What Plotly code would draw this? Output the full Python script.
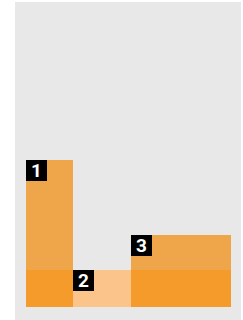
import plotly.graph_objects as go

labels = ["1", "2", "3"]
widths = [23, 28, 49]
totals = [80, 20, 39]
base = [20, 20, 20]

dark = "#F59B2B"
light = "#EFA54A"
peach = "#FBC48A"

lefts = []
acc = 0
for w in widths:
    lefts.append(acc)
    acc += w
centers = [l + w / 2 for l, w in zip(lefts, widths)]
bottom = [min(t, b) for t, b in zip(totals, base)]
top = [t - b for t, b in zip(totals, bottom)]
bottom_colors = [peach if t <= b else dark for t, b in zip(totals, base)]

fig = go.Figure()
fig.add_trace(go.Bar(x=centers, y=bottom, width=widths, marker=dict(color=bottom_colors, line=dict(width=0)),
                     hoverinfo="skip"))
fig.add_trace(go.Bar(x=centers, y=top, width=widths, marker=dict(color=light, line=dict(width=0)),
                     hoverinfo="skip"))

for lab, l, t in zip(labels, lefts, totals):
    fig.add_annotation(x=l, y=t, xref="x", yref="y", text="<b>" + lab + "</b>", showarrow=False,
                       xanchor="left", yanchor="top", bgcolor="black", font=dict(color="white", size=19, family="Roboto"),
                       width=21, height=21, borderpad=0, borderwidth=0, align="center", valign="middle")

fig.update_layout(
    barmode="stack", bargap=0, showlegend=False,
    width=243, height=320,
    margin=dict(l=15, r=2, t=2, b=0),
    paper_bgcolor="white", plot_bgcolor="#E8E8E8",
    xaxis=dict(range=[-5.4, 104.9], visible=False, fixedrange=True),
    yaxis=dict(range=[-7.25, 166], visible=False, fixedrange=True),
)
fig.write_html("out.html", config={"displayModeBar": False},
               post_script="document.body.style.margin='0';document.body.style.overflow='hidden';")
